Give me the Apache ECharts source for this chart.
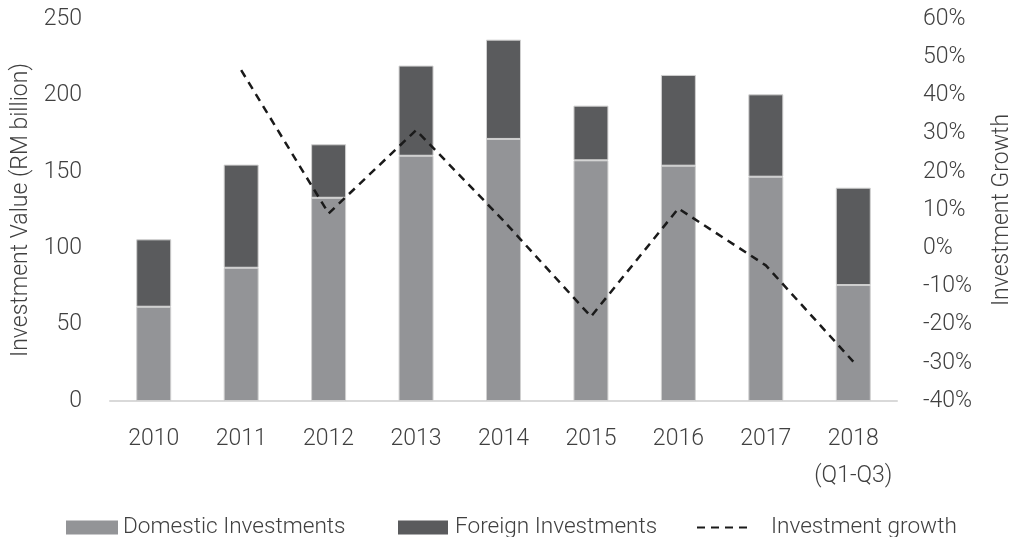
<!DOCTYPE html>
<html>
<head>
<meta charset="utf-8">
<script src="https://cdn.jsdelivr.net/npm/echarts@6/dist/echarts.min.js"></script>
<style>
  html, body { margin: 0; padding: 0; background: #fff; }
  #chart { width: 1013px; height: 537px; }
</style>
</head>
<body>
<div id="chart"></div>
<script>
// categories
var years = ["2010", "2011", "2012", "2013", "2014", "2015", "2016", "2017", "2018\n(Q1-Q3)"];
// RM billion
var domestic = [61.7, 87.2, 133, 160.5, 171.5, 157.5, 154, 146.8, 75.9];
var foreign = [44.1, 67.5, 35, 59, 65, 35.8, 59.4, 53.9, 63.7];
// growth in %
var growth = [null, 46.6, 9.1, 30.9, 7.2, -17.9, 10.4, -4.5, -29.7];

var leftTicks = { min: 0, max: 250, interval: 50 };
var rightTicks = { min: -40, max: 60, interval: 10 };

var font = "Roboto";
var txt = "#404040";
var fs = 23;

var chart = echarts.init(document.getElementById("chart"));
chart.setOption({
  animation: false,
  textStyle: { fontFamily: font, fontWeight: 300 },
  grid: { left: 110, right: 116, top: 19, bottom: 136, outerBoundsMode: "none" },
  legend: [
    {
      data: ["Domestic Investments"],
      left: 61, top: 511,
      icon: "rect",
      itemWidth: 52, itemHeight: 14,
      itemStyle: { borderWidth: 0 },
      textStyle: { fontSize: 22.6, color: txt, fontFamily: font, fontWeight: 300 }
    },
    {
      data: ["Foreign Investments"],
      left: 393, top: 511,
      icon: "rect",
      itemWidth: 50, itemHeight: 14,
      itemStyle: { borderWidth: 0 },
      textStyle: { fontSize: 22.6, color: txt, fontFamily: font, fontWeight: 300, padding: [0, 0, 0, 2] }
    },
    {
      data: ["Investment growth"],
      left: 691, top: 511,
      itemWidth: 51, itemHeight: 14,
      itemStyle: { color: "rgba(0,0,0,0)", borderWidth: 0 },
      textStyle: { fontSize: 22.6, color: txt, fontFamily: font, fontWeight: 300, padding: [0, 0, 0, 18] }
    }
  ],
  xAxis: {
    type: "category",
    data: years,
    axisLine: { lineStyle: { color: "#d9d9d9", width: 2 } },
    axisTick: { show: false },
    axisLabel: { interval: 0, fontSize: fs, color: txt, margin: 20, lineHeight: 37 }
  },
  yAxis: [
    {
      type: "value",
      min: leftTicks.min, max: leftTicks.max, interval: leftTicks.interval,
      name: "Investment Value (RM billion)",
      nameLocation: "middle",
      nameGap: 73,
      nameTextStyle: { fontSize: fs, color: txt },
      axisLine: { show: false },
      axisTick: { show: false },
      splitLine: { show: false },
      axisLabel: { fontSize: fs, color: txt, margin: 28 }
    },
    {
      type: "value",
      min: rightTicks.min, max: rightTicks.max, interval: rightTicks.interval,
      name: "Investment Growth",
      nameLocation: "middle",
      nameGap: 94,
      nameRotate: 90,
      nameTextStyle: { fontSize: fs, color: txt },
      axisLine: { show: false },
      axisTick: { show: false },
      splitLine: { show: false },
      axisLabel: { fontSize: fs, color: txt, margin: 26, formatter: "{value}%" }
    }
  ],
  series: [
    {
      name: "Domestic Investments",
      type: "bar",
      stack: "inv",
      barWidth: "40%",
      data: domestic,
      itemStyle: { color: "#939497", borderColor: "#d0d0d0", borderWidth: 1 }
    },
    {
      name: "Foreign Investments",
      type: "bar",
      stack: "inv",
      barWidth: "40%",
      data: foreign,
      itemStyle: { color: "#5a5b5d", borderColor: "#d0d0d0", borderWidth: 1 }
    },
    {
      name: "Investment growth",
      type: "line",
      yAxisIndex: 1,
      data: growth,
      symbol: "none",
      connectNulls: false,
      lineStyle: { color: "#1a1a1a", width: 2.5, type: [8, 6] },
      itemStyle: { color: "#1a1a1a" }
    }
  ]
});
</script>
</body>
</html>
